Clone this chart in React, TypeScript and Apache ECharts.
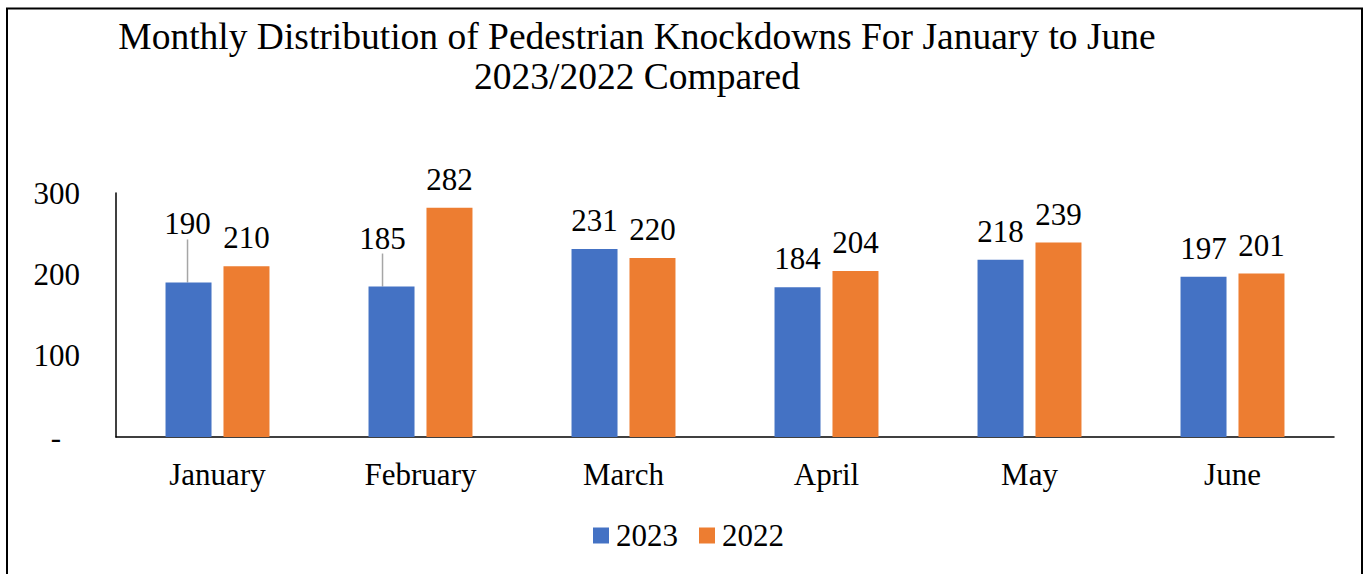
import React, { useEffect, useRef } from "react";
import * as echarts from "echarts";

const months = ["January", "February", "March", "April", "May", "June"];
const values2023 = [190, 185, 231, 184, 218, 197];
const values2022 = [210, 282, 220, 204, 239, 201];
const titleLines = [
  "Monthly Distribution of Pedestrian Knockdowns For January to June",
  "2023/2022 Compared",
];
// label shifts (dx, dy) for the 2023 labels that were moved in the original
const moved2023: Record<number, [number, number]> = { 0: [-1, -30], 1: [-9, -20] };

const FONT = "'Liberation Serif', 'Times New Roman', serif";

export default function App() {
  const ref = useRef<HTMLDivElement>(null);
  useEffect(() => {
    if (!ref.current) return;
    const chart = echarts.init(ref.current, undefined, { renderer: "svg" });
    const data2023 = values2023.map((v, i) =>
      moved2023[i]
        ? { value: v, labelLine: { show: true, lineStyle: { color: "#A6A6A6", width: 1.5 } } }
        : { value: v, labelLine: { show: false } }
    );
    chart.setOption({
      animation: false,
      backgroundColor: "#ffffff",
      textStyle: { fontFamily: FONT, color: "#000" },
      title: {
        text: titleLines.join("\n"),
        left: 632,
        textAlign: "center",
        top: 11,
        textStyle: { fontFamily: FONT, fontSize: 37.5, fontWeight: "normal", color: "#000", lineHeight: 40 },
      },
      legend: {
        left: 593,
        top: 520,
        padding: 0,
        itemWidth: 16,
        itemHeight: 16,
        itemGap: 21,
        icon: "rect",
        textStyle: { fontFamily: FONT, fontSize: 31, color: "#000", padding: [0, 0, 0, 2] },
        data: ["2023", "2022"],
      },
      grid: { left: 116, right: 35, top: 193, bottom: 137 },
      xAxis: {
        type: "category",
        data: months,
        axisLine: { lineStyle: { color: "#000", width: 1.5 } },
        axisTick: { show: false },
        axisLabel: { fontFamily: FONT, fontSize: 31, color: "#000", margin: 22 },
      },
      yAxis: {
        type: "value",
        min: 0,
        max: 300,
        interval: 100,
        axisLine: { show: true, lineStyle: { color: "#000", width: 1.5 } },
        axisTick: { show: false },
        splitLine: { show: false },
        axisLabel: {
          fontFamily: FONT,
          fontSize: 31,
          color: "#000",
          margin: 36,
          formatter: (v: number) => (v === 0 ? "{d|-}" : String(v)),
          rich: { d: { fontFamily: FONT, fontSize: 31, color: "#000", padding: [0, 19, 0, 0] } },
        },
      },
      series: [
        {
          name: "2023",
          type: "bar",
          data: data2023,
          barWidth: 46,
          barGap: "26%",
          itemStyle: { color: "#4472C4" },
          label: { show: true, position: "top", distance: 13, fontFamily: FONT, fontSize: 31, color: "#000" },
          labelLayout: (p: any) => {
            const m = moved2023[p.dataIndex];
            return m ? { dx: m[0], dy: m[1] } : {};
          },
        },
        {
          name: "2022",
          type: "bar",
          data: values2022,
          barWidth: 46,
          itemStyle: { color: "#ED7D31" },
          label: { show: true, position: "top", distance: 13, fontFamily: FONT, fontSize: 31, color: "#000" },
        },
      ],
      graphic: [
        {
          type: "rect",
          shape: { x: 7, y: 8.5, width: 1355, height: 620 },
          style: { fill: "none", stroke: "#000", lineWidth: 2 },
          silent: true,
        },
      ],
    });
    return () => chart.dispose();
  }, []);
  return (
    <div
      ref={ref}
      style={{ position: "fixed", left: 0, top: 0, width: 1369, height: 574 }}
    />
  );
}
